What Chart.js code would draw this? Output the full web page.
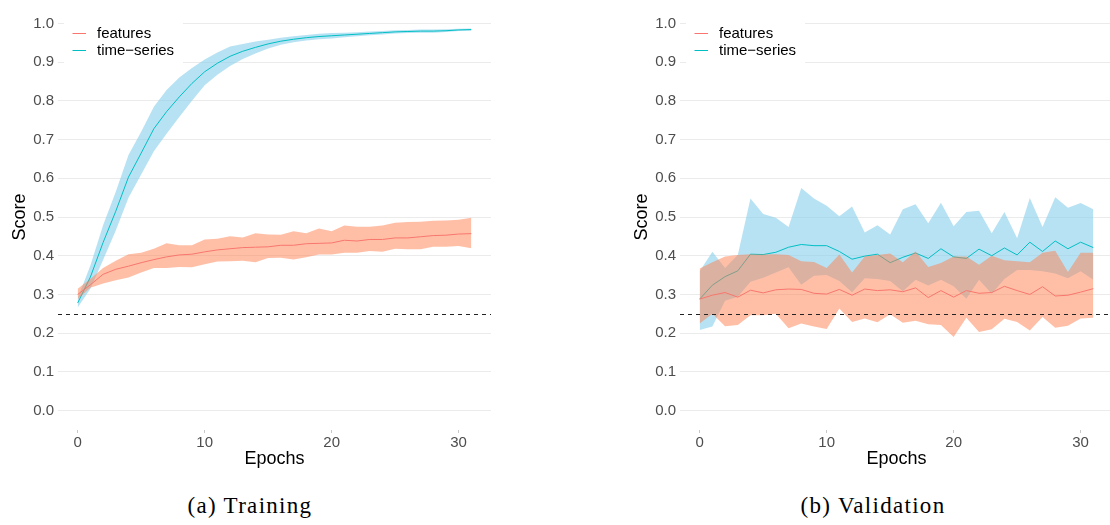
<!DOCTYPE html>
<html>
<head>
<meta charset="utf-8">
<script src="https://cdn.jsdelivr.net/npm/chart.js@4.4.1/dist/chart.umd.min.js"></script>
<style>
  html, body { margin: 0; padding: 0; background: #fff; width: 1110px; height: 525px; overflow: hidden; }
  .panel { position: absolute; }
  .caption {
    position: absolute; width: 240px; text-align: center; white-space: nowrap;
    font-family: "Liberation Serif", "DejaVu Serif", serif; font-size: 23px; line-height: 23px;
    letter-spacing: 1.3px; color: #000;
  }
</style>
</head>
<body>
<div class="panel" style="left:0px; top:-9px;"><canvas id="train" width="491" height="489"></canvas></div>
<div class="panel" style="left:622px; top:-9px;"><canvas id="valid" width="491" height="489"></canvas></div>
<div class="caption" style="left:130px; top:494px;">(a) Training</div>
<div class="caption" style="left:753px; top:494px;">(b) Validation</div>

<script>
// ---- data -------------------------------------------------------------
const epochs = [0,1,2,3,4,5,6,7,8,9,10,11,12,13,14,15,16,17,18,19,20,21,22,23,24,25,26,27,28,29,30,31];
const seriesNames = ['features', 'time\u2212series'];
const xTicks = [0, 10, 20, 30];
const xTickLabels = ['0', '10', '20', '30'];
const yTicks = [0, 0.1, 0.2, 0.3, 0.4, 0.5, 0.6, 0.7, 0.8, 0.9, 1.0];
const yTickLabels = ['0.0','0.1','0.2','0.3','0.4','0.5','0.6','0.7','0.8','0.9','1.0'];
const chanceLevel = 0.25;

// Training: mean score with lower / upper band
const trainFeatMean = [0.300,0.325,0.352,0.365,0.373,0.382,0.390,0.397,0.402,0.404,0.410,0.415,0.418,0.421,0.422,0.423,0.427,0.427,0.431,0.432,0.433,0.440,0.438,0.442,0.442,0.446,0.446,0.449,0.452,0.453,0.456,0.457];
const trainFeatLow  = [0.288,0.317,0.328,0.337,0.344,0.357,0.368,0.368,0.371,0.370,0.378,0.385,0.386,0.387,0.383,0.394,0.395,0.390,0.396,0.403,0.403,0.408,0.408,0.412,0.410,0.418,0.417,0.417,0.423,0.423,0.425,0.419];
const trainFeatHigh = [0.315,0.340,0.368,0.387,0.404,0.408,0.418,0.432,0.427,0.427,0.442,0.444,0.450,0.447,0.458,0.455,0.454,0.463,0.458,0.470,0.463,0.478,0.475,0.475,0.478,0.485,0.487,0.488,0.490,0.491,0.493,0.498];

const trainTsMean = [0.278,0.345,0.434,0.515,0.603,0.665,0.728,0.772,0.810,0.845,0.875,0.897,0.915,0.928,0.938,0.947,0.954,0.959,0.963,0.966,0.968,0.970,0.972,0.974,0.976,0.978,0.979,0.980,0.980,0.981,0.983,0.984];
const trainTsLow  = [0.266,0.315,0.389,0.465,0.550,0.610,0.670,0.715,0.758,0.800,0.840,0.867,0.890,0.908,0.922,0.935,0.945,0.951,0.956,0.959,0.961,0.964,0.967,0.969,0.971,0.974,0.975,0.976,0.976,0.978,0.980,0.981];
const trainTsHigh = [0.290,0.375,0.479,0.565,0.660,0.720,0.785,0.828,0.860,0.885,0.907,0.925,0.940,0.947,0.953,0.958,0.963,0.967,0.970,0.973,0.975,0.976,0.977,0.979,0.980,0.982,0.983,0.984,0.984,0.985,0.986,0.987];

// Validation: mean score with lower / upper band
const validFeatMean = [0.288,0.298,0.305,0.293,0.311,0.304,0.312,0.314,0.313,0.303,0.301,0.313,0.298,0.314,0.310,0.312,0.307,0.317,0.292,0.310,0.293,0.310,0.303,0.305,0.321,0.310,0.300,0.320,0.296,0.298,0.306,0.315];
const validFeatLow  = [0.225,0.250,0.218,0.221,0.246,0.246,0.250,0.213,0.225,0.217,0.211,0.264,0.229,0.238,0.228,0.249,0.227,0.232,0.223,0.221,0.190,0.240,0.203,0.210,0.237,0.229,0.207,0.242,0.214,0.219,0.238,0.240];
const validFeatHigh = [0.367,0.383,0.398,0.402,0.404,0.403,0.404,0.402,0.386,0.384,0.368,0.403,0.357,0.398,0.402,0.406,0.383,0.411,0.371,0.381,0.398,0.398,0.377,0.400,0.388,0.386,0.383,0.408,0.413,0.358,0.408,0.408];

const validTsMean = [0.288,0.324,0.346,0.361,0.404,0.403,0.409,0.422,0.429,0.426,0.426,0.411,0.391,0.399,0.404,0.382,0.396,0.407,0.393,0.418,0.397,0.393,0.417,0.400,0.420,0.402,0.435,0.411,0.438,0.418,0.435,0.421];
const validTsLow  = [0.208,0.217,0.284,0.294,0.333,0.343,0.357,0.370,0.325,0.348,0.350,0.335,0.306,0.342,0.340,0.335,0.308,0.338,0.323,0.338,0.321,0.289,0.338,0.302,0.340,0.363,0.363,0.360,0.354,0.342,0.360,0.338];
const validTsHigh = [0.360,0.410,0.368,0.402,0.548,0.508,0.498,0.474,0.575,0.548,0.529,0.502,0.527,0.460,0.479,0.455,0.520,0.533,0.484,0.537,0.476,0.513,0.516,0.458,0.513,0.445,0.549,0.474,0.551,0.524,0.536,0.520];

// ---- styling ------------------------------------------------------------
const SANS = '"Liberation Sans", Arial, Helvetica, sans-serif';
const featColor = '#F8766D';
const tsColor = '#00BFC4';
const featFill = 'rgba(255,127,80,0.5)';
const tsFill = 'rgba(135,206,235,0.6)';

Chart.defaults.font.family = SANS;

const toPoints = (ys) => epochs.map((e, i) => ({ x: e, y: ys[i] }));

// White legend box with line keys in the upper-left of the panel
const keyPlugin = {
  id: 'keyPlugin',
  beforeDatasetsDraw(chart) {
    const { ctx, chartArea: a } = chart;
    ctx.save();
    ctx.fillStyle = '#ffffff';
    ctx.fillRect(a.left + 6, 9, 119, 63);
    ctx.restore();
  },
  afterDatasetsDraw(chart) {
    const { ctx, chartArea: a } = chart;
    const colors = [featColor, tsColor];
    const rows = [42, 59];
    ctx.save();
    ctx.font = '15px ' + SANS;
    ctx.textBaseline = 'middle';
    ctx.textAlign = 'left';
    seriesNames.forEach((name, i) => {
      ctx.strokeStyle = colors[i];
      ctx.lineWidth = 1;
      ctx.beginPath();
      ctx.moveTo(a.left + 14.5, rows[i] + 0.5);
      ctx.lineTo(a.left + 28, rows[i] + 0.5);
      ctx.stroke();
      ctx.fillStyle = '#000';
      ctx.fillText(name, a.left + 39, rows[i] + 1);
    });
    ctx.restore();
  }
};

// Dashed chance-level reference line across the panel
const chancePlugin = {
  id: 'chancePlugin',
  afterDatasetsDraw(chart) {
    const { ctx, chartArea: a, scales } = chart;
    const y = Math.round(scales.y.getPixelForValue(chanceLevel)) + 0.5;
    ctx.save();
    ctx.strokeStyle = '#222';
    ctx.lineWidth = 1;
    ctx.setLineDash([4, 4]);
    ctx.beginPath();
    ctx.moveTo(a.left, y);
    ctx.lineTo(a.right, y);
    ctx.stroke();
    ctx.restore();
  }
};

function makePanel(id, fMean, fLow, fHigh, tMean, tLow, tHigh) {
  const clear = 'rgba(0,0,0,0)';
  const datasets = [
    { label: 'ts-low',  data: toPoints(tLow),  borderColor: clear, borderWidth: 0, fill: false, order: 5 },
    { label: 'ts-high', data: toPoints(tHigh), borderColor: clear, borderWidth: 0, fill: 0, backgroundColor: tsFill, order: 4 },
    { label: seriesNames[1], data: toPoints(tMean), borderColor: tsColor, borderWidth: 1, fill: false, order: 3 },
    { label: 'feat-low',  data: toPoints(fLow),  borderColor: clear, borderWidth: 0, fill: false, order: 2 },
    { label: 'feat-high', data: toPoints(fHigh), borderColor: clear, borderWidth: 0, fill: 3, backgroundColor: featFill, order: 1 },
    { label: seriesNames[0], data: toPoints(fMean), borderColor: featColor, borderWidth: 1, fill: false, order: 0 }
  ];
  return new Chart(document.getElementById(id), {
    type: 'line',
    data: { datasets },
    plugins: [keyPlugin, chancePlugin],
    options: {
      responsive: false,
      animation: false,
      devicePixelRatio: 1,
      layout: { padding: { top: 1, left: 0, right: 0, bottom: 0 } },
      elements: { point: { radius: 0, hoverRadius: 0 }, line: { tension: 0 } },
      plugins: { legend: { display: false }, tooltip: { enabled: false } },
      scales: {
        x: {
          type: 'linear', min: -1.55, max: 32.55,
          afterBuildTicks: (s) => { s.ticks = xTicks.map(v => ({ value: v })); },
          afterFit: (s) => { s.height = 50; },
          grid: { display: true, drawOnChartArea: false, drawTicks: true, tickLength: 3, tickColor: '#c8c8c8' },
          border: { display: false },
          ticks: { font: { size: 15 }, color: '#4D4D4D', padding: 1, maxRotation: 0, autoSkip: false,
                   callback: (v, i) => xTickLabels[i] },
          title: { display: true, text: 'Epochs', color: '#000', font: { size: 18 }, padding: { top: 0, bottom: 10 } }
        },
        y: {
          type: 'linear', min: -0.05, max: 1.05,
          afterBuildTicks: (s) => { s.ticks = yTicks.map(v => ({ value: v })); },
          afterFit: (s) => { s.width = 58; },
          grid: { color: '#EBEBEB', lineWidth: 1, drawTicks: false },
          border: { display: false },
          ticks: { font: { size: 15 }, color: '#4D4D4D', padding: 4, autoSkip: false,
                   callback: (v, i) => yTickLabels[i] },
          title: { display: true, text: 'Score', color: '#000', font: { size: 18 }, padding: { top: 9, bottom: 0 } }
        }
      }
    }
  });
}

makePanel('train', trainFeatMean, trainFeatLow, trainFeatHigh, trainTsMean, trainTsLow, trainTsHigh);
makePanel('valid', validFeatMean, validFeatLow, validFeatHigh, validTsMean, validTsLow, validTsHigh);
</script>
</body>
</html>
